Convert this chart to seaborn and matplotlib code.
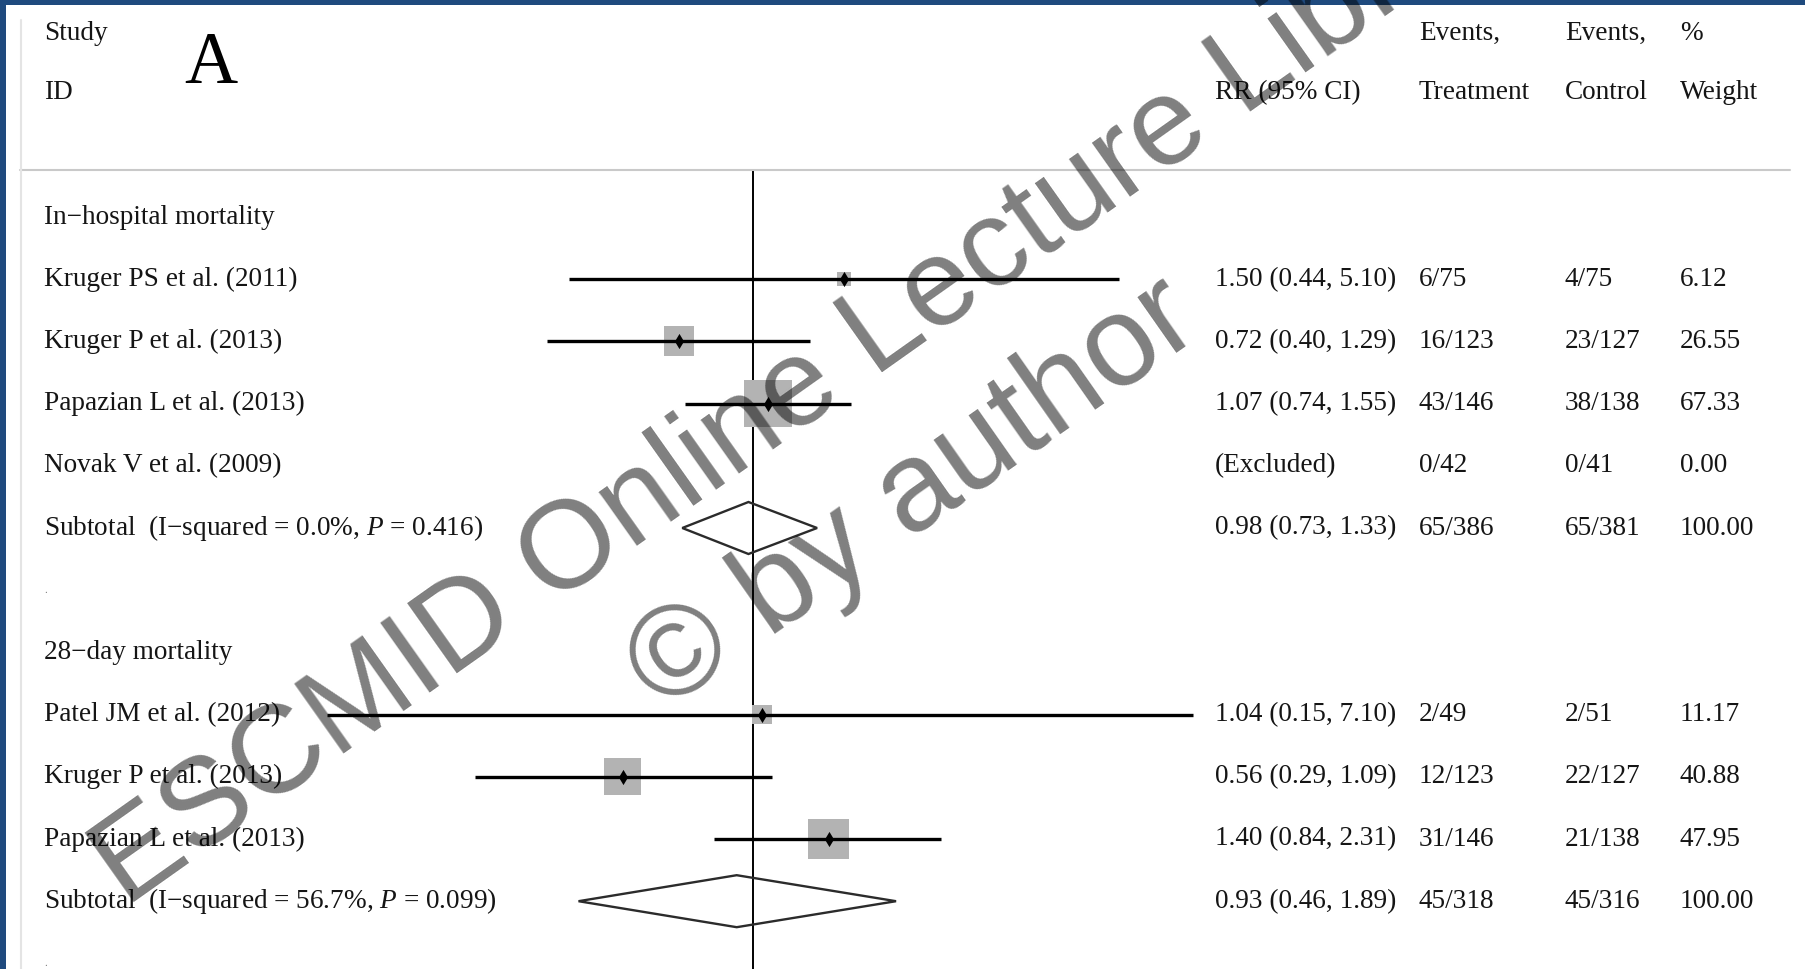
import numpy as np
import pandas as pd
import matplotlib
matplotlib.use("Agg")
import matplotlib.pyplot as plt
from matplotlib.patches import Polygon, Rectangle
from matplotlib.lines import Line2D
import seaborn as sns

# ---- study-level data -------------------------------------------------------
studies = ["Kruger PS et al. (2011)", "Kruger P et al. (2013)",
           "Papazian L et al. (2013)", "Novak V et al. (2009)",
           "Patel JM et al. (2012)", "Kruger P et al. (2013)",
           "Papazian L et al. (2013)"]
groups = ["In\u2212hospital mortality"] * 4 + ["28\u2212day mortality"] * 3
rr = [1.50, 0.72, 1.07, np.nan, 1.04, 0.56, 1.40]
rr_lo = [0.44, 0.40, 0.74, np.nan, 0.15, 0.29, 0.84]
rr_hi = [5.10, 1.29, 1.55, np.nan, 7.10, 1.09, 2.31]
events_trt = ["6/75", "16/123", "43/146", "0/42", "2/49", "12/123", "31/146"]
events_ctl = ["4/75", "23/127", "38/138", "0/41", "2/51", "22/127", "21/138"]
weights = [6.12, 26.55, 67.33, 0.00, 11.17, 40.88, 47.95]

# ---- subgroup pooled estimates ------------------------------------------------
sub_groups = ["In\u2212hospital mortality", "28\u2212day mortality"]
sub_rr = [0.98, 0.93]
sub_lo = [0.73, 0.46]
sub_hi = [1.33, 1.89]
sub_trt = ["65/386", "45/318"]
sub_ctl = ["65/381", "45/316"]
sub_i2 = ["0.0%", "56.7%"]
sub_p = ["0.416", "0.099"]
sub_w = [100.00, 100.00]

# ---- build row layout ---------------------------------------------------------
rows = []   # (row, kind, payload)
r = 0
for g_i, g in enumerate(sub_groups):
    rows.append((r, "header", g)); r += 1
    for i, gg in enumerate(groups):
        if gg == g:
            rows.append((r, "study", i)); r += 1
    rows.append((r, "subtotal", g_i)); r += 1
    rows.append((r, "gap", None)); r += 1

study_rows = {p: rr_ for rr_, k, p in rows if k == "study"}
df = pd.DataFrame({"study": studies, "rr": rr, "lo": rr_lo, "hi": rr_hi,
                   "w": weights})
df["row"] = [study_rows[i] for i in range(len(studies))]
plotted = df.dropna(subset=["rr"])

# ---- figure -------------------------------------------------------------------
sns.set_theme(style="white")
plt.rcParams["font.family"] = ["Liberation Serif", "DejaVu Serif"]
plt.rcParams["mathtext.fontset"] = "custom"
plt.rcParams["mathtext.rm"] = "Liberation Serif"
plt.rcParams["mathtext.it"] = "Liberation Serif:italic"

W, H, DPI = 1806, 969, 100
fig = plt.figure(figsize=(W / DPI, H / DPI), dpi=DPI, facecolor="white")
ax = fig.add_axes([0, 0, 1, 1])
ax.set_xscale("log")
px_per_ln = 224.7
x_null = 753.0
ax.set_xlim(np.exp(-x_null / px_per_ln), np.exp((W - x_null) / px_per_ln))
row_h, row0 = 62.2, 217.0
ax.set_ylim((H - row0) / row_h, -row0 / row_h)
ax.axis("off")

def fx(px):
    return px / W

def row_of(py):
    return (py - row0) / row_h

# null line at RR = 1
ax.vlines(1.0, row_of(170), row_of(H), color="black", lw=1.4, zorder=2)

# confidence intervals
ax.hlines(plotted["row"], plotted["lo"], plotted["hi"], color="black",
          lw=2.4, zorder=3)

# weight boxes (area proportional to weight)
sns.scatterplot(data=plotted, x="rr", y="row", size="w", sizes=(0, 1750),
                size_norm=(0, 100), marker="s", color="#b3b3b3",
                linewidth=0, legend=False, ax=ax, zorder=2)
# point estimates
sns.scatterplot(data=plotted, x="rr", y="row", marker="d", s=60,
                color="black", linewidth=0, legend=False, ax=ax, zorder=4)

# pooled diamonds
half_h = 26 / row_h
for (row, kind, p) in rows:
    if kind == "subtotal":
        pts = [(sub_lo[p], row), (sub_rr[p], row - half_h),
               (sub_hi[p], row), (sub_rr[p], row + half_h)]
        ax.add_patch(Polygon(pts, closed=True, fill=False, edgecolor="#2b2b2b",
                             lw=1.7, zorder=3))

# ---- text columns ---------------------------------------------------------
trans = ax.get_yaxis_transform()  # x in axes fraction, y in rows
FS = 19.6
TC = "#151515"
col_left, col_rr, col_trt, col_ctl, col_w = fx(44), fx(1215), fx(1419), fx(1565), fx(1680)

def put(x, row, s, **kw):
    ax.text(x, row, s, transform=trans, fontsize=FS, color=TC,
            ha="left", va="center", **kw)

put(col_left, -2.95, "Study")
put(col_left, -2, "ID")
put(col_rr, -2, "RR (95% CI)")
put(col_trt, -2.95, "Events,")
put(col_trt, -2, "Treatment")
put(col_ctl, -2.95, "Events,")
put(col_ctl, -2, "Control")
put(col_w, -2.95, "%")
put(col_w, -2, "Weight")
ax.text(fx(184), row_of(83), "A", transform=trans, fontsize=53, color="black",
        ha="left", va="baseline")

for (row, kind, p) in rows:
    if kind == "header":
        put(col_left, row, p)
    elif kind == "study":
        put(col_left, row, studies[p])
        if np.isnan(rr[p]):
            put(col_rr, row, "(Excluded)")
        else:
            put(col_rr, row, f"{rr[p]:.2f} ({rr_lo[p]:.2f}, {rr_hi[p]:.2f})")
        put(col_trt, row, events_trt[p])
        put(col_ctl, row, events_ctl[p])
        put(col_w, row, f"{weights[p]:.2f}")
    elif kind == "subtotal":
        put(col_left, row,
            f"Subtotal  (I\u2212squared = {sub_i2[p]}, $\\mathit{{P}}$ = {sub_p[p]})")
        put(col_rr, row, f"{sub_rr[p]:.2f} ({sub_lo[p]:.2f}, {sub_hi[p]:.2f})")
        put(col_trt, row, sub_trt[p])
        put(col_ctl, row, sub_ctl[p])
        put(col_w, row, f"{sub_w[p]:.2f}")
    else:
        ax.text(col_left, row, ".", transform=trans, fontsize=8, color="#777777",
                ha="left", va="center")

# ---- frame: separator, left rule, blue border -----------------------------
fig.add_artist(Line2D([fx(20), fx(1790)], [1 - 170 / H, 1 - 170 / H],
                      color="#c9c9c9", lw=1.5, transform=fig.transFigure))
fig.add_artist(Line2D([fx(21), fx(21)], [1 - 20 / H, 0],
                      color="#e4e4e4", lw=1.5, transform=fig.transFigure))
fig.add_artist(Rectangle((0, 1 - 5 / H), 1, 5 / H, color="#1f4a7e",
                         transform=fig.transFigure, lw=0))
fig.add_artist(Rectangle((0, 0), 6 / W, 1, color="#1f4a7e",
                         transform=fig.transFigure, lw=0))

# ---- watermark ------------------------------------------------------------
wm = dict(family="Liberation Sans", color="black", alpha=0.5,
          rotation_mode="anchor", ha="left", va="baseline",
          transform=fig.transFigure, zorder=20)
fig.text(fx(126), 1 - 908 / H, "ESCMID Online Lecture Library",
         fontsize=90, rotation=35.3, **wm)
fig.text(fx(663), 1 - 713 / H, "\u00a9 by author", fontsize=92, rotation=35,
         **wm)

fig.savefig("out.png", dpi=DPI, facecolor="white")
